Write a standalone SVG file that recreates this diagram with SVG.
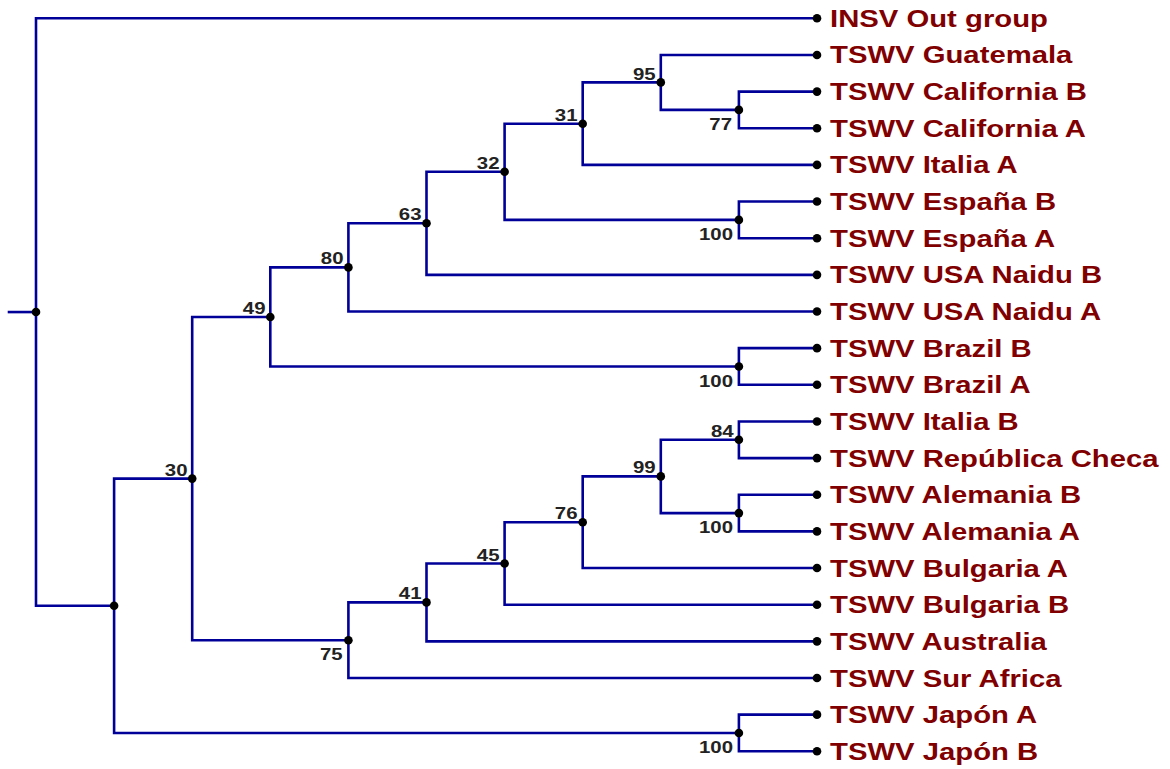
<svg xmlns="http://www.w3.org/2000/svg" width="1170" height="769" viewBox="0 0 1170 769">
<style>
.br{fill:none;stroke:#000099;stroke-width:2.6;stroke-linecap:square}
.dot{fill:#000}
.lf{font-family:"Liberation Sans",Arial,sans-serif;font-weight:bold;font-size:24px;fill:#800000}
.bs{font-family:"Liberation Sans",Arial,sans-serif;font-weight:bold;font-size:17px;fill:#222;text-anchor:end}
</style>
<rect width="1170" height="769" fill="#fff"/>
<g id="connectors">
<path class="br" d="M9 312.05 H36"/>
<path class="br" d="M817 18.3 H36 V605.8 H114.1"/>
<path class="br" d="M192.2 478.6 H114.1 V733 H738.9"/>
<path class="br" d="M270.3 317 H192.2 V640.2 H348.4"/>
<path class="br" d="M348.4 267.4 H270.3 V366.5 H738.9"/>
<path class="br" d="M426.5 223.3 H348.4 V311.5 H817"/>
<path class="br" d="M504.6 171.8 H426.5 V274.85 H817"/>
<path class="br" d="M582.7 123.7 H504.6 V219.9 H738.9"/>
<path class="br" d="M660.8 82.4 H582.7 V164.9 H817"/>
<path class="br" d="M817 54.95 H660.8 V109.9 H738.9"/>
<path class="br" d="M817 91.6 H738.9 V128.25 H817"/>
<path class="br" d="M817 201.55 H738.9 V238.2 H817"/>
<path class="br" d="M817 348.15 H738.9 V384.8 H817"/>
<path class="br" d="M426.5 602.4 H348.4 V678 H817"/>
<path class="br" d="M504.6 563.5 H426.5 V641.35 H817"/>
<path class="br" d="M582.7 522.2 H504.6 V604.7 H817"/>
<path class="br" d="M660.8 476.4 H582.7 V568.05 H817"/>
<path class="br" d="M738.9 439.8 H660.8 V513.1 H738.9"/>
<path class="br" d="M817 421.45 H738.9 V458.1 H817"/>
<path class="br" d="M817 494.75 H738.9 V531.4 H817"/>
<path class="br" d="M817 714.65 H738.9 V751.3 H817"/>
</g>
<g id="n-root"><circle class="dot" cx="36" cy="312.05" r="4.3"/></g>
<g id="n-a"><circle class="dot" cx="114.1" cy="605.8" r="4.3"/></g>
<g id="n30"><circle class="dot" cx="192.2" cy="478.6" r="4.3"/><text class="bs" transform="translate(187.5,475.6) scale(1.2,1)">30</text></g>
<g id="n49"><circle class="dot" cx="270.3" cy="317" r="4.3"/><text class="bs" transform="translate(265.5,314) scale(1.2,1)">49</text></g>
<g id="n80"><circle class="dot" cx="348.4" cy="267.4" r="4.3"/><text class="bs" transform="translate(343.5,264.4) scale(1.2,1)">80</text></g>
<g id="n63"><circle class="dot" cx="426.5" cy="223.3" r="4.3"/><text class="bs" transform="translate(421.5,220.3) scale(1.2,1)">63</text></g>
<g id="n32"><circle class="dot" cx="504.6" cy="171.8" r="4.3"/><text class="bs" transform="translate(499.5,168.8) scale(1.2,1)">32</text></g>
<g id="n31"><circle class="dot" cx="582.7" cy="123.7" r="4.3"/><text class="bs" transform="translate(577.5,120.7) scale(1.2,1)">31</text></g>
<g id="n95"><circle class="dot" cx="660.8" cy="82.4" r="4.3"/><text class="bs" transform="translate(655.7,79.6) scale(1.2,1)">95</text></g>
<g id="n77"><circle class="dot" cx="738.9" cy="109.9" r="4.3"/><text class="bs" transform="translate(732,129.9) scale(1.2,1)">77</text></g>
<g id="n-esp"><circle class="dot" cx="738.9" cy="219.9" r="4.3"/><text class="bs" transform="translate(733,239.9) scale(1.2,1)">100</text></g>
<g id="n-bra"><circle class="dot" cx="738.9" cy="366.5" r="4.3"/><text class="bs" transform="translate(733,386.5) scale(1.2,1)">100</text></g>
<g id="n75"><circle class="dot" cx="348.4" cy="640.2" r="4.3"/><text class="bs" transform="translate(342.7,660.2) scale(1.2,1)">75</text></g>
<g id="n41"><circle class="dot" cx="426.5" cy="602.4" r="4.3"/><text class="bs" transform="translate(421.5,599.4) scale(1.2,1)">41</text></g>
<g id="n45"><circle class="dot" cx="504.6" cy="563.5" r="4.3"/><text class="bs" transform="translate(499.5,560.5) scale(1.2,1)">45</text></g>
<g id="n76"><circle class="dot" cx="582.7" cy="522.2" r="4.3"/><text class="bs" transform="translate(577.5,519.2) scale(1.2,1)">76</text></g>
<g id="n99"><circle class="dot" cx="660.8" cy="476.4" r="4.3"/><text class="bs" transform="translate(655.7,473.4) scale(1.2,1)">99</text></g>
<g id="n84"><circle class="dot" cx="738.9" cy="439.8" r="4.3"/><text class="bs" transform="translate(733.7,436.8) scale(1.2,1)">84</text></g>
<g id="n-ale"><circle class="dot" cx="738.9" cy="513.1" r="4.3"/><text class="bs" transform="translate(733,533.1) scale(1.2,1)">100</text></g>
<g id="n-jap"><circle class="dot" cx="738.9" cy="733" r="4.3"/><text class="bs" transform="translate(733,753) scale(1.2,1)">100</text></g>
<g id="leaf-insv"><circle class="dot" cx="817" cy="18.3" r="4.3"/><text class="lf" transform="translate(830,26.8) scale(1.22,1)">INSV Out group</text></g>
<g id="leaf-guatemala"><circle class="dot" cx="817" cy="54.95" r="4.3"/><text class="lf" transform="translate(830,63.45) scale(1.22,1)">TSWV Guatemala</text></g>
<g id="leaf-californiaB"><circle class="dot" cx="817" cy="91.6" r="4.3"/><text class="lf" transform="translate(830,100.1) scale(1.22,1)">TSWV California B</text></g>
<g id="leaf-californiaA"><circle class="dot" cx="817" cy="128.25" r="4.3"/><text class="lf" transform="translate(830,136.75) scale(1.22,1)">TSWV California A</text></g>
<g id="leaf-italiaA"><circle class="dot" cx="817" cy="164.9" r="4.3"/><text class="lf" transform="translate(830,173.4) scale(1.22,1)">TSWV Italia A</text></g>
<g id="leaf-espanaB"><circle class="dot" cx="817" cy="201.55" r="4.3"/><text class="lf" transform="translate(830,210.05) scale(1.22,1)">TSWV España B</text></g>
<g id="leaf-espanaA"><circle class="dot" cx="817" cy="238.2" r="4.3"/><text class="lf" transform="translate(830,246.7) scale(1.22,1)">TSWV España A</text></g>
<g id="leaf-usaB"><circle class="dot" cx="817" cy="274.85" r="4.3"/><text class="lf" transform="translate(830,283.35) scale(1.22,1)">TSWV USA Naidu B</text></g>
<g id="leaf-usaA"><circle class="dot" cx="817" cy="311.5" r="4.3"/><text class="lf" transform="translate(830,320) scale(1.22,1)">TSWV USA Naidu A</text></g>
<g id="leaf-brazilB"><circle class="dot" cx="817" cy="348.15" r="4.3"/><text class="lf" transform="translate(830,356.65) scale(1.22,1)">TSWV Brazil B</text></g>
<g id="leaf-brazilA"><circle class="dot" cx="817" cy="384.8" r="4.3"/><text class="lf" transform="translate(830,393.3) scale(1.22,1)">TSWV Brazil A</text></g>
<g id="leaf-italiaB"><circle class="dot" cx="817" cy="421.45" r="4.3"/><text class="lf" transform="translate(830,429.95) scale(1.22,1)">TSWV Italia B</text></g>
<g id="leaf-checa"><circle class="dot" cx="817" cy="458.1" r="4.3"/><text class="lf" transform="translate(830,466.6) scale(1.22,1)">TSWV República Checa</text></g>
<g id="leaf-alemaniaB"><circle class="dot" cx="817" cy="494.75" r="4.3"/><text class="lf" transform="translate(830,503.25) scale(1.22,1)">TSWV Alemania B</text></g>
<g id="leaf-alemaniaA"><circle class="dot" cx="817" cy="531.4" r="4.3"/><text class="lf" transform="translate(830,539.9) scale(1.22,1)">TSWV Alemania A</text></g>
<g id="leaf-bulgariaA"><circle class="dot" cx="817" cy="568.05" r="4.3"/><text class="lf" transform="translate(830,576.55) scale(1.22,1)">TSWV Bulgaria A</text></g>
<g id="leaf-bulgariaB"><circle class="dot" cx="817" cy="604.7" r="4.3"/><text class="lf" transform="translate(830,613.2) scale(1.22,1)">TSWV Bulgaria B</text></g>
<g id="leaf-australia"><circle class="dot" cx="817" cy="641.35" r="4.3"/><text class="lf" transform="translate(830,649.85) scale(1.22,1)">TSWV Australia</text></g>
<g id="leaf-surafrica"><circle class="dot" cx="817" cy="678" r="4.3"/><text class="lf" transform="translate(830,686.5) scale(1.22,1)">TSWV Sur Africa</text></g>
<g id="leaf-japonA"><circle class="dot" cx="817" cy="714.65" r="4.3"/><text class="lf" transform="translate(830,723.15) scale(1.22,1)">TSWV Japón A</text></g>
<g id="leaf-japonB"><circle class="dot" cx="817" cy="751.3" r="4.3"/><text class="lf" transform="translate(830,759.8) scale(1.22,1)">TSWV Japón B</text></g>
</svg>
